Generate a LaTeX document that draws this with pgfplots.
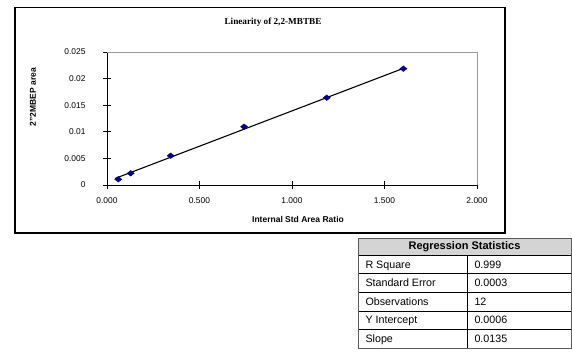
\documentclass[border=0pt]{standalone}
\usepackage{pgfplots}
\pgfplotsset{compat=1.18}
\usepackage{fontspec}
\setmainfont{Liberation Sans}
\newfontfamily\timesfont{Liberation Serif}
\definecolor{navy}{RGB}{0,0,128}
\definecolor{hdr}{RGB}{212,212,212}
\begin{document}
\begin{tikzpicture}[x=1pt,y=1pt]
\useasboundingbox (0,0) rectangle (572,354);
\fill[white] (0,0) rectangle (572,354);
\draw[line width=1.1pt] (15,121) rectangle (505,346.5);
\begin{axis}[
  at={(107pt,169pt)}, anchor=south west,
  scale only axis, width=370pt, height=133pt,
  xmin=0, xmax=2, ymin=0, ymax=0.025,
  axis lines*=left,
  axis line style={black, line width=0.8pt},
  xtick={0,0.5,1,1.5,2},
  xticklabels={0.000,0.500,1.000,1.500,2.000},
  ytick={0,0.005,0.01,0.015,0.02,0.025},
  yticklabels={0,0.005,0.01,0.015,0.02,0.025},
  scaled ticks=false,
  tick align=center,
  major tick length=8pt,
  tick style={black, line width=0.8pt},
  /pgf/number format/assume math mode=true,
  xticklabel style={font=\fontsize{8.4}{10}\selectfont, yshift=-5pt},
  yticklabel style={font=\fontsize{8.4}{10}\selectfont, xshift=-14pt},
  clip=false,
]
\draw[gray!80, line width=0.8pt] (rel axis cs:0,1) -- (rel axis cs:1,1) -- (rel axis cs:1,0);
\addplot[black, line width=1.1pt, no marks] coordinates {(0.045,0.00125) (1.600,0.0219)};
\addplot[only marks, mark=diamond*, mark size=2.8pt, mark options={xscale=1.7}, color=navy] coordinates {
(0.061,0.00107)
(0.128,0.00220)
(0.344,0.00550)
(0.741,0.01096)
(1.188,0.01641)
(1.602,0.02186)
};
\end{axis}
\node[font=\timesfont\bfseries\fontsize{9.2}{11}\selectfont] at (273,332) {Linearity of 2,2-MBTBE};
\node[font=\bfseries\fontsize{8.5}{10}\selectfont] at (298,135) {Internal Std Area Ratio};
\node[font=\bfseries\fontsize{8.5}{10}\selectfont, rotate=90] at (33,257) {2"2MBEP area};
% regression table
\fill[hdr] (358,116) rectangle (571,99);
\foreach \y in {99,80.4,61.8,43.2,24.6} \draw[black, line width=0.5pt] (358,\y) -- (571,\y);
\draw[black, line width=0.5pt] (467,99) -- (467,6);
\draw[gray!70!black, line width=1pt] (358,6) rectangle (571,116);
\node[font=\bfseries\fontsize{11}{13}\selectfont] at (464.5,107.5) {Regression Statistics};
\begin{scope}[every node/.style={anchor=base west, font=\fontsize{10.7}{12}\selectfont}]
\node at (362,86) {R Square};       \node at (471,86) {0.999};
\node at (362,67.4) {Standard Error}; \node at (471,67.4) {0.0003};
\node at (362,48.8) {Observations};   \node at (471,48.8) {12};
\node at (362,30.2) {Y Intercept};    \node at (471,30.2) {0.0006};
\node at (362,11.6) {Slope};          \node at (471,11.6) {0.0135};
\end{scope}
\end{tikzpicture}
\end{document}
